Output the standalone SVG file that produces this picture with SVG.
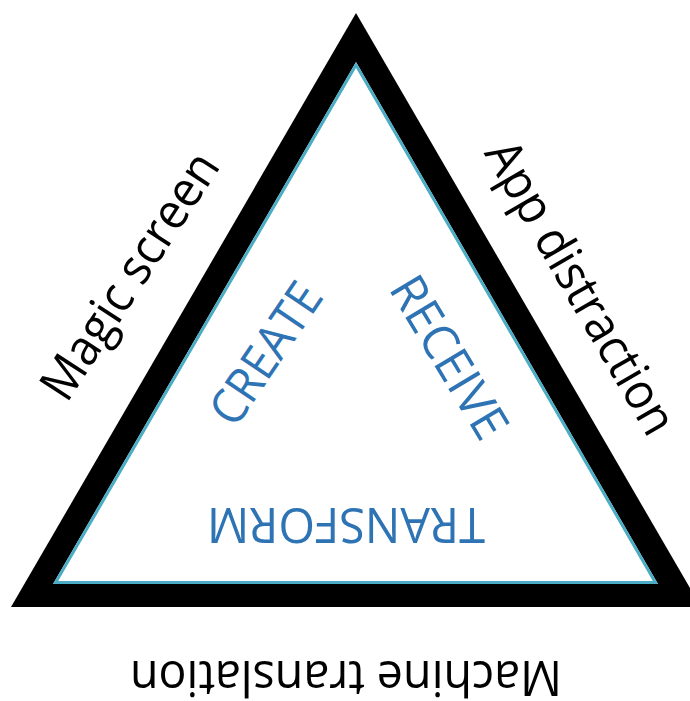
<svg xmlns="http://www.w3.org/2000/svg" width="690" height="701" viewBox="0 0 690 701">
  <style>
    .lbl { font-family: "Open Sans", "Liberation Sans", sans-serif; font-size: 50px; fill: #000; text-anchor: middle; }
    .blue { font-family: "Open Sans", "Liberation Sans", sans-serif; font-size: 49px; fill: #2e74b5; text-anchor: middle; }
  </style>
  <rect width="690" height="701" fill="#ffffff"/>
  <g id="triangle">
    <polygon points="356,13 11,607 701,607" fill="#000000"/>
    <polygon points="356,62 53,584 658,584" fill="#ffffff"/>
    <polygon points="356,65 55.6,582.5 655.4,582.5" fill="none" stroke="#4bacc6" stroke-width="3"/>
  </g>
  <g id="magic-screen">
    <text class="lbl" transform="translate(144,285) rotate(-57)" textLength="284" lengthAdjust="spacingAndGlyphs">Magic screen</text>
  </g>
  <g id="app-distraction">
    <text class="lbl" transform="translate(566,296) rotate(60)" textLength="330" lengthAdjust="spacingAndGlyphs">App distraction</text>
  </g>
  <g id="machine-translation">
    <text class="lbl" transform="translate(346,661) rotate(180)" textLength="432" lengthAdjust="spacingAndGlyphs">Machine translation</text>
  </g>
  <g id="create">
    <text class="blue" transform="translate(280,363) rotate(-56)" textLength="160" lengthAdjust="spacingAndGlyphs">CREATE</text>
  </g>
  <g id="receive">
    <text class="blue" transform="translate(434.5,366) rotate(59)" textLength="181" lengthAdjust="spacingAndGlyphs">RECEIVE</text>
  </g>
  <g id="transform">
    <text class="blue" transform="translate(346,508) rotate(180)" textLength="278" lengthAdjust="spacingAndGlyphs">TRANSFORM</text>
  </g>
</svg>
